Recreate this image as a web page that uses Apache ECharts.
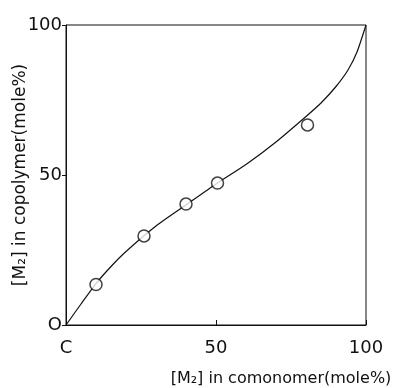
<!DOCTYPE html>
<html>
<head>
<meta charset="utf-8">
<script src="https://cdn.jsdelivr.net/npm/echarts@6/dist/echarts.min.js"></script>
<style>
  html, body { margin: 0; padding: 0; background: #fff; }
  #main { width: 395px; height: 388px; }
</style>
</head>
<body>
<div id="main"></div>
<script>
// measured points (open circles)
var feedM2 = [10, 26, 40, 50.5, 80.5];
var polyM2 = [13.5, 29.7, 40.3, 47.3, 66.7];

// theoretical curve
var curveX = [0, 5, 10, 15, 20, 30, 40, 50, 60, 70, 80, 85, 90, 94, 97, 100];
var curveY = [0, 7, 13.8, 19.5, 24.5, 33, 40, 47, 53.5, 61, 69.5, 74, 79.5, 85, 91, 100];

var xTickLabels = {0: 'C', 50: '50', 100: '100'};
var yTickLabels = {0: 'O', 50: '50', 100: '100'};

var chart = echarts.init(document.getElementById('main'));

var pts = feedM2.map(function (x, i) { return [x, polyM2[i]]; });
var line = curveX.map(function (x, i) { return [x, curveY[i]]; });

var font = 'DejaVu Sans';

chart.setOption({
  backgroundColor: '#fff',
  animation: false,
  grid: {
    left: 66, right: 29, top: 25, bottom: 63,
    outerBoundsMode: 'none',
    containLabel: false,
    show: true, borderColor: '#111', borderWidth: 1
  },
  xAxis: {
    type: 'value', min: 0, max: 100, interval: 50,
    name: '[M₂] in comonomer(mole%)',
    nameLocation: 'middle',
    nameGap: 46,
    nameMoveOverlap: false,
    nameTextStyle: { color: '#111', fontSize: 16, fontFamily: font, padding: [0, 0, 0, 130] },
    axisLine: { show: true, lineStyle: { color: '#111', width: 1 } },
    axisTick: { show: true, inside: true, length: 5, lineStyle: { color: '#111' } },
    axisLabel: {
      color: '#111', fontSize: 18, fontFamily: font, margin: 14,
      formatter: function (v) { return xTickLabels[v]; }
    },
    splitLine: { show: false }
  },
  yAxis: {
    type: 'value', min: 0, max: 100, interval: 50,
    name: '[M₂] in copolymer(mole%)',
    nameLocation: 'middle',
    nameGap: 37,
    nameMoveOverlap: false,
    nameTextStyle: { color: '#111', fontSize: 17, fontFamily: font },
    axisLine: { show: true, lineStyle: { color: '#111', width: 1 } },
    axisTick: { show: true, inside: false, length: 4, lineStyle: { color: '#111' } },
    axisLabel: {
      color: '#111', fontSize: 18, fontFamily: font, margin: 4,
      formatter: function (v) { return yTickLabels[v]; }
    },
    splitLine: { show: false }
  },
  series: [
    {
      type: 'line',
      data: line,
      smooth: 0.2,
      showSymbol: false,
      lineStyle: { color: '#111', width: 1.2 },
      z: 2
    },
    {
      type: 'scatter',
      data: pts,
      symbol: 'circle',
      symbolSize: 12,
      itemStyle: { color: '#fff', borderColor: '#111', borderWidth: 1.5 },
      z: 3
    }
  ]
});
</script>
</body>
</html>
